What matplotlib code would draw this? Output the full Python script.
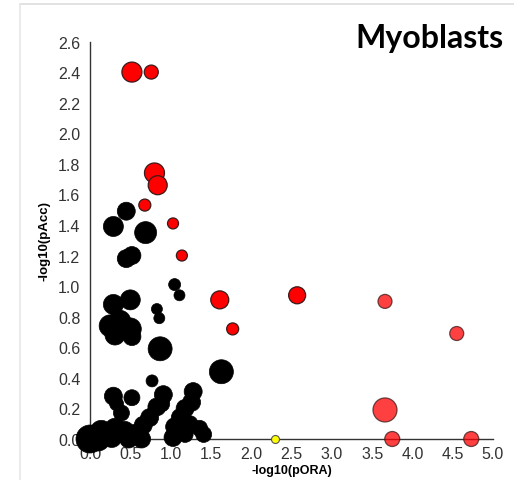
import matplotlib
matplotlib.use("Agg")
import matplotlib.pyplot as plt
from matplotlib.lines import Line2D
import numpy as np

# significant pathways (solid red)
sig_x = [0.52, 0.76, 0.80, 0.84, 0.68, 1.03, 1.14, 1.61, 2.57, 1.77]
sig_y = [2.40, 2.40, 1.74, 1.66, 1.53, 1.41, 1.20, 0.91, 0.94, 0.72]
sig_r = [10, 7, 10, 9.5, 6, 5.5, 5.5, 9, 8.5, 6]

# ORA-only significant pathways (lighter red)
ora_x = [3.66, 4.55, 3.66, 3.75, 4.73]
ora_y = [0.90, 0.69, 0.19, 0.00, 0.00]
ora_r = [7, 7, 12, 7.5, 7.5]

# yellow pathway
yel_x = [2.29]
yel_y = [0.00]
yel_r = [4]

# non-significant pathways (black)
ns_x = [0.45, 0.29, 0.69, 0.45, 0.52, 1.05, 1.11, 0.83, 0.86, 0.87,
        0.29, 0.50, 0.25, 0.50, 0.37, 0.31, 0.52, 1.63, 0.77, 0.29,
        0.52, 0.39, 0.33, 0.91, 1.28, 0.83, 0.74, 0.66, 0.58, 0.89,
        1.18, 1.12, 1.05, 1.03, 1.26, 1.36, 1.41, 1.18, 1.24, 0.00,
        0.14, 0.31, 0.43, 0.56, 0.64, 0.48, 0.27, 0.10]
ns_y = [1.49, 1.39, 1.35, 1.18, 1.20, 1.01, 0.94, 0.85, 0.79, 0.59,
        0.88, 0.91, 0.74, 0.72, 0.77, 0.68, 0.67, 0.44, 0.38, 0.28,
        0.27, 0.17, 0.23, 0.29, 0.31, 0.21, 0.14, 0.09, 0.03, 0.23,
        0.20, 0.14, 0.08, 0.01, 0.24, 0.07, 0.03, 0.03, 0.10, 0.00,
        0.05, 0.07, 0.05, 0.03, 0.00, 0.00, 0.01, 0.00]
ns_r = [9, 10, 11, 9, 9, 6, 5.5, 5.5, 5.5, 12,
        10, 10, 11, 11, 11, 10, 9, 12, 6, 9,
        8, 8, 7, 9, 9, 9, 9, 9, 9, 8,
        9, 9, 9, 9, 9, 8, 8, 8, 8, 14,
        11, 10, 10, 10, 9, 9, 10, 12]

xticks = np.arange(0, 5.01, 0.5)
yticks = np.arange(0, 2.61, 0.2)


def area(r):
    # radius in pixels -> marker area in points^2
    return (np.array(r) * 2 * 72 / 100.0) ** 2


fig = plt.figure(figsize=(5.14, 4.81), dpi=100)
ax = fig.add_axes([90 / 514, 41 / 481, 403 / 514, 397.5 / 481])

ax.scatter(ns_x, ns_y, s=area(ns_r), color='black', edgecolor='black',
           linewidth=0.5, clip_on=False, zorder=3)
ax.scatter(sig_x, sig_y, s=area(sig_r), color='#ff0000', edgecolor='#3a1a1a',
           linewidth=0.9, clip_on=False, zorder=4)
ax.scatter(ora_x, ora_y, s=area(ora_r), color='#ff0000', alpha=0.75,
           edgecolor='#3a1a1a', linewidth=0.9, clip_on=False, zorder=4)
ax.scatter(yel_x, yel_y, s=area(yel_r), color='#ffff00', edgecolor='#555555',
           linewidth=0.8, clip_on=False, zorder=4)

ax.set_xlim(0, 5)
ax.set_ylim(0, 2.6)
ax.set_xticks(xticks)
ax.set_yticks(yticks)
ax.set_xticklabels(['%.1f' % v for v in xticks])
ax.set_yticklabels(['%.1f' % v for v in yticks])
ax.set_xticks([5.0], minor=True)
ax.set_yticks([2.6], minor=True)
ax.tick_params(which='major', length=0, pad=7, labelsize=11.5,
               labelcolor='#333333')
ax.tick_params(axis='x', which='major', pad=5)
ax.tick_params(which='minor', length=4, width=1, color='#333333')
for lab in ax.get_xticklabels() + ax.get_yticklabels():
    lab.set_fontfamily('Liberation Sans')

for s in ['top', 'right']:
    ax.spines[s].set_visible(False)
for s in ['left', 'bottom']:
    ax.spines[s].set_color('#333333')
    ax.spines[s].set_linewidth(1)
    ax.spines[s].set_zorder(2)

ax.set_xlabel('-log10(pORA)', fontsize=9, fontweight='bold',
              family='Liberation Sans', labelpad=2)
ax.set_ylabel('-log10(pAcc)', fontsize=9.5, fontweight='bold',
              family='Liberation Sans', labelpad=5)

fig.text(355 / 514, 1 - 48 / 481, 'Myoblasts', fontsize=23,
         fontweight='bold', family='Lato', ha='left', va='baseline')

# slide frame lines
fig.add_artist(Line2D([20 / 514, 1], [1 - 5 / 481, 1 - 5 / 481],
                      color='#dddddd', lw=1.2))
fig.add_artist(Line2D([20 / 514, 20 / 514], [0, 1 - 5 / 481],
                      color='#e6e6e6', lw=1.2))

fig.savefig('out.png', dpi=100)
